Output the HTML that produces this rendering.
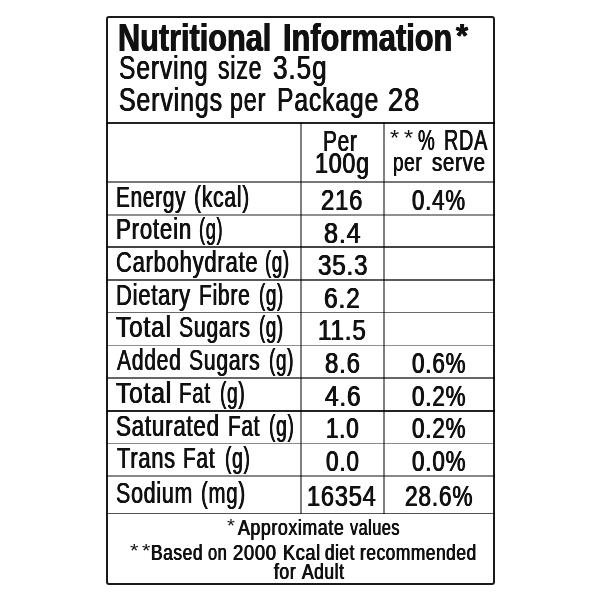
<!DOCTYPE html>
<html><head><meta charset="utf-8"><title>Nutritional Information</title>
<style>
html,body{margin:0;padding:0;background:#fff;}
body{width:600px;height:600px;position:relative;overflow:hidden;font-family:"Liberation Sans",sans-serif;color:#111;}
#w{position:absolute;left:0;top:0;width:600px;height:600px;will-change:transform;filter:blur(0.35px);}
.t{position:absolute;white-space:pre;line-height:1;transform-origin:0 0;letter-spacing:0.035em;text-shadow:0.5px 0 0 #111,-0.5px 0 0 #111;}
.b{font-weight:bold;text-shadow:0.6px 0 0 #111,-0.6px 0 0 #111;letter-spacing:0;}
.n{letter-spacing:0;text-shadow:none;}
.l{position:absolute;mix-blend-mode:multiply;}
</style></head><body><div id="w">
<div class="l" style="left:300.1px;top:122px;width:2px;height:392px;background:#808080"></div>
<div class="l" style="left:383.0px;top:122px;width:2px;height:392px;background:#808080"></div>
<div class="l" style="left:107px;top:180.90px;width:388px;height:1.8px;background:#777"></div>
<div class="l" style="left:107px;top:213.80px;width:388px;height:1.8px;background:#909090"></div>
<div class="l" style="left:107px;top:246.00px;width:388px;height:2.0px;background:#444"></div>
<div class="l" style="left:107px;top:279.05px;width:388px;height:1.7px;background:#5a5a5a"></div>
<div class="l" style="left:107px;top:311.65px;width:388px;height:1.7px;background:#6a6a6a"></div>
<div class="l" style="left:107px;top:344.60px;width:388px;height:1.8px;background:#909090"></div>
<div class="l" style="left:107px;top:377.25px;width:388px;height:1.7px;background:#666"></div>
<div class="l" style="left:107px;top:409.70px;width:388px;height:2.0px;background:#222"></div>
<div class="l" style="left:107px;top:442.60px;width:388px;height:1.8px;background:#8a8a8a"></div>
<div class="l" style="left:107px;top:475.15px;width:388px;height:1.7px;background:#888"></div>
<div class="l" style="left:107px;top:512.75px;width:388px;height:1.7px;background:#555"></div>
<div class="l" style="left:107px;top:121.5px;width:388px;height:2px;background:#222"></div>
<div class="l" style="left:106px;top:16px;width:385.2px;height:564.5px;border:solid #1a1a1a;border-width:2.3px 2.5px 2.3px 2.4px;border-radius:3px;"></div>
<span class="t b" style="left:118.34px;top:18.20px;font-size:39.5px;transform:scaleX(0.7764)">Nutritional</span>
<span class="t b" style="left:282.73px;top:18.20px;font-size:39.5px;transform:scaleX(0.7795)">Information</span>
<span class="t b" style="left:456.27px;top:20.00px;font-size:32.4px;transform:scaleX(0.9545)">*</span>
<span class="t" style="left:119.09px;top:51.40px;font-size:33.2px;transform:scaleX(0.7422)">Serving</span>
<span class="t" style="left:217.95px;top:51.40px;font-size:33.2px;transform:scaleX(0.6967)">size</span>
<span class="t" style="left:272.91px;top:51.40px;font-size:33.2px;transform:scaleX(0.7864)">3.5g</span>
<span class="t" style="left:119.07px;top:82.50px;font-size:33.2px;transform:scaleX(0.7511)">Servings</span>
<span class="t" style="left:230.45px;top:82.50px;font-size:33.2px;transform:scaleX(0.7020)">per</span>
<span class="t" style="left:277.14px;top:82.50px;font-size:33.2px;transform:scaleX(0.7444)">Package</span>
<span class="t" style="left:387.77px;top:82.50px;font-size:33.2px;transform:scaleX(0.8222)">28</span>
<span class="t" style="left:323.34px;top:125.80px;font-size:29.5px;transform:scaleX(0.7064)">Per</span>
<span class="t" style="left:314.82px;top:148.30px;font-size:29.5px;transform:scaleX(0.7879)">100g</span>
<span class="t n" style="left:389.91px;top:127.00px;font-size:21.7px;transform:scaleX(1.0857)">*</span>
<span class="t n" style="left:404.31px;top:127.00px;font-size:21.7px;transform:scaleX(1.0857)">*</span>
<span class="t" style="left:417.68px;top:124.60px;font-size:29.5px;transform:scaleX(0.6400)">%</span>
<span class="t" style="left:443.59px;top:124.60px;font-size:29.5px;transform:scaleX(0.6730)">RDA</span>
<span class="t" style="left:392.89px;top:150.00px;font-size:25.8px;transform:scaleX(0.7368)">per</span>
<span class="t" style="left:432.20px;top:150.00px;font-size:25.8px;transform:scaleX(0.7939)">serve</span>
<span class="t" style="left:115.65px;top:182.00px;font-size:29.6px;transform:scaleX(0.7020)">Energy</span>
<span class="t" style="left:194.43px;top:182.00px;font-size:29.6px;transform:scaleX(0.7133)">(kcal)</span>
<span class="t" style="left:115.57px;top:214.00px;font-size:29.6px;transform:scaleX(0.7526)">Protein</span>
<span class="t" style="left:198.88px;top:214.00px;font-size:29.6px;transform:scaleX(0.6167)">(g)</span>
<span class="t" style="left:115.99px;top:246.50px;font-size:29.6px;transform:scaleX(0.7426)">Carbohydrate</span>
<span class="t" style="left:265.45px;top:246.50px;font-size:29.6px;transform:scaleX(0.6306)">(g)</span>
<span class="t" style="left:115.59px;top:279.50px;font-size:29.6px;transform:scaleX(0.7424)">Dietary</span>
<span class="t" style="left:199.13px;top:279.50px;font-size:29.6px;transform:scaleX(0.7101)">Fibre</span>
<span class="t" style="left:258.55px;top:279.50px;font-size:29.6px;transform:scaleX(0.6361)">(g)</span>
<span class="t" style="left:116.49px;top:312.00px;font-size:29.6px;transform:scaleX(0.8246)">Total</span>
<span class="t" style="left:179.23px;top:312.00px;font-size:29.6px;transform:scaleX(0.7165)">Sugars</span>
<span class="t" style="left:259.35px;top:312.00px;font-size:29.6px;transform:scaleX(0.6306)">(g)</span>
<span class="t" style="left:117.46px;top:345.20px;font-size:29.6px;transform:scaleX(0.7124)">Added</span>
<span class="t" style="left:189.43px;top:345.20px;font-size:29.6px;transform:scaleX(0.7144)">Sugars</span>
<span class="t" style="left:269.34px;top:345.20px;font-size:29.6px;transform:scaleX(0.6389)">(g)</span>
<span class="t" style="left:116.49px;top:377.50px;font-size:29.6px;transform:scaleX(0.8277)">Total</span>
<span class="t" style="left:178.96px;top:377.50px;font-size:29.6px;transform:scaleX(0.6932)">Fat</span>
<span class="t" style="left:219.53px;top:377.50px;font-size:29.6px;transform:scaleX(0.6472)">(g)</span>
<span class="t" style="left:115.97px;top:410.50px;font-size:29.6px;transform:scaleX(0.7545)">Saturated</span>
<span class="t" style="left:227.75px;top:410.50px;font-size:29.6px;transform:scaleX(0.7023)">Fat</span>
<span class="t" style="left:269.32px;top:410.50px;font-size:29.6px;transform:scaleX(0.6528)">(g)</span>
<span class="t" style="left:116.53px;top:443.40px;font-size:29.6px;transform:scaleX(0.7385)">Trans</span>
<span class="t" style="left:182.94px;top:443.40px;font-size:29.6px;transform:scaleX(0.7045)">Fat</span>
<span class="t" style="left:224.52px;top:443.40px;font-size:29.6px;transform:scaleX(0.6528)">(g)</span>
<span class="t" style="left:116.02px;top:478.10px;font-size:29.6px;transform:scaleX(0.7233)">Sodium</span>
<span class="t" style="left:200.86px;top:478.10px;font-size:29.6px;transform:scaleX(0.6902)">(mg)</span>
<span class="t" style="left:321.19px;top:185.60px;font-size:28.9px;transform:scaleX(0.8245)">216</span>
<span class="t" style="left:323.57px;top:218.60px;font-size:28.9px;transform:scaleX(0.8683)">8.4</span>
<span class="t" style="left:317.58px;top:251.40px;font-size:28.9px;transform:scaleX(0.8345)">35.3</span>
<span class="t" style="left:323.73px;top:283.80px;font-size:28.9px;transform:scaleX(0.8500)">6.2</span>
<span class="t" style="left:317.75px;top:316.40px;font-size:28.9px;transform:scaleX(0.8364)">11.5</span>
<span class="t" style="left:324.59px;top:349.00px;font-size:28.9px;transform:scaleX(0.8293)">8.6</span>
<span class="t" style="left:324.58px;top:381.60px;font-size:28.9px;transform:scaleX(0.8439)">4.6</span>
<span class="t" style="left:325.84px;top:414.30px;font-size:28.9px;transform:scaleX(0.7750)">1.0</span>
<span class="t" style="left:325.61px;top:447.00px;font-size:28.9px;transform:scaleX(0.7805)">0.0</span>
<span class="t" style="left:306.78px;top:481.70px;font-size:28.9px;transform:scaleX(0.8145)">16354</span>
<span class="t" style="left:412.21px;top:185.60px;font-size:28.9px;transform:scaleX(0.7706)">0.4%</span>
<span class="t" style="left:412.21px;top:349.00px;font-size:28.9px;transform:scaleX(0.7765)">0.6%</span>
<span class="t" style="left:412.21px;top:381.60px;font-size:28.9px;transform:scaleX(0.7765)">0.2%</span>
<span class="t" style="left:412.21px;top:414.30px;font-size:28.9px;transform:scaleX(0.7765)">0.2%</span>
<span class="t" style="left:412.21px;top:447.00px;font-size:28.9px;transform:scaleX(0.7765)">0.0%</span>
<span class="t" style="left:405.21px;top:481.90px;font-size:28.9px;transform:scaleX(0.7859)">28.6%</span>
<span class="t n" style="left:226.53px;top:516.00px;font-size:19px;transform:scaleX(1.0667)">*</span>
<span class="t" style="left:238.39px;top:515.90px;font-size:22.7px;transform:scaleX(0.7815)">Approximate</span>
<span class="t" style="left:349.96px;top:515.90px;font-size:22.7px;transform:scaleX(0.7114)">values</span>
<span class="t n" style="left:129.75px;top:540.60px;font-size:19px;transform:scaleX(1.1500)">*</span>
<span class="t n" style="left:141.67px;top:540.60px;font-size:19px;transform:scaleX(1.1333)">*</span>
<span class="t" style="left:151.45px;top:540.50px;font-size:22.7px;transform:scaleX(0.7646)">Based</span>
<span class="t" style="left:207.94px;top:540.50px;font-size:22.7px;transform:scaleX(0.7240)">on</span>
<span class="t" style="left:233.09px;top:540.50px;font-size:22.7px;transform:scaleX(0.8135)">2000</span>
<span class="t" style="left:282.80px;top:540.50px;font-size:22.7px;transform:scaleX(0.8000)">Kcal</span>
<span class="t" style="left:324.62px;top:540.50px;font-size:22.7px;transform:scaleX(0.7513)">diet</span>
<span class="t" style="left:359.66px;top:540.50px;font-size:22.7px;transform:scaleX(0.7593)">recommended</span>
<span class="t" style="left:273.59px;top:560.40px;font-size:22.7px;transform:scaleX(0.7724)">for</span>
<span class="t" style="left:301.88px;top:560.40px;font-size:22.7px;transform:scaleX(0.7643)">Adult</span>
</div></body></html>
